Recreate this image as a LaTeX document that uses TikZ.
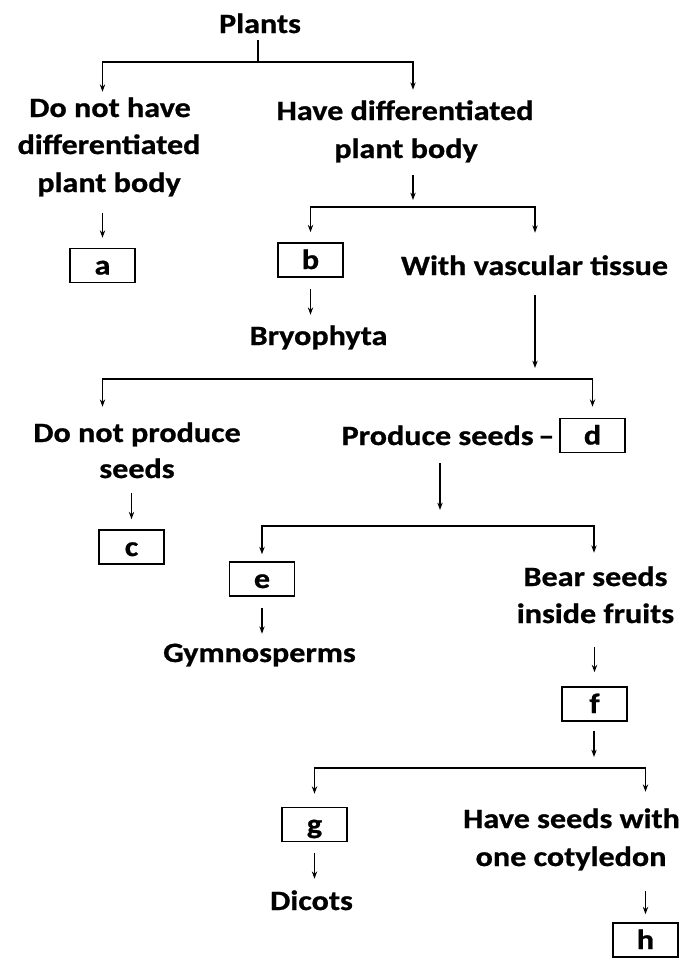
\documentclass[tikz,border=0pt]{standalone}
\usepackage{fontspec}
\setmainfont{Carlito}[FakeStretch=1.15, BoldFeatures={FakeBold=0.8}]
\usetikzlibrary{arrows.meta}
\begin{document}
\begin{tikzpicture}[x=0.75pt,y=-0.75pt,
  txt/.style={font=\fontsize{20.96}{28}\selectfont\bfseries, inner sep=0pt, anchor=base, text height=13.5pt, text depth=0pt},
  lbox/.style={draw, line width=1.2pt, minimum width=48.75pt, minimum height=25.5pt, inner xsep=0pt, inner ysep=6pt, text height=13.5pt, text depth=0pt, font=\fontsize{20.96}{28}\selectfont\bfseries},
  conn/.style={line width=1pt},
  arr/.style={conn, -{Stealth[length=5.5pt,width=4pt]}}]
\useasboundingbox (0,0) rectangle (684,958);
% text nodes (placed on their baselines)
\node[txt] (plants) at (260,33) {Plants};
\node[txt] (nodiff1) at (110,117) {Do not have};
\node[txt] (nodiff2) at (109,154) {differentiated};
\node[txt] (nodiff3) at (109,192) {plant body};
\node[txt] (diff1) at (405,120) {Have differentiated};
\node[txt] (diff2) at (406,158) {plant body};
\node[txt] (vasc) at (534.5,275) {With vascular tissue};
\node[txt] (bryo) at (318.5,345) {Bryophyta};
\node[txt] (noprod1) at (137,442) {Do not produce};
\node[txt] (noprod2) at (137,478) {seeds};
\node[txt] (seeds) at (448,445) {Produce seeds\,--};
\node[txt] (fruits1) at (595.5,586) {Bear seeds};
\node[txt] (fruits2) at (595.5,623) {inside fruits};
\node[txt] (gymno) at (259.5,662) {Gymnosperms};
\node[txt] (mono1) at (571.5,828) {Have seeds with};
\node[txt] (mono2) at (571,866) {one cotyledon};
\node[txt] (dicots) at (311.5,910) {Dicots};
% answer boxes
\node[lbox] (a) at (102.5,265.5) {a};
\node[lbox] (b) at (310.5,260) {b};
\node[lbox] (c) at (131.5,547) {c};
\node[lbox] (d) at (592.5,435.5) {d};
\node[lbox] (e) at (262,579) {e};
\node[lbox] (f) at (594.5,704) {f};
\node[lbox] (g) at (314.5,824.5) {g};
\node[lbox] (h) at (645.5,940) {h};
% junctions on the horizontal bars
\coordinate (j1) at (258,62);
\coordinate (j2) at (413,207);
\coordinate (j3) at (535,379);
\coordinate (j4) at (440,526);
\coordinate (j5) at (594,768);
% connectors
\draw[conn, shorten <=5.25pt] (plants.south -| j1) -- (j1);
\draw[arr, shorten >=5.25pt] (j1) -| (nodiff1.north -| a);
\draw[arr, shorten >=9pt] (j1) -| (diff1.north -| j2);
\draw[arr, shorten <=15.75pt, shorten >=7.5pt] (nodiff3.south -| a) -- (a.north);
\draw[arr, shorten <=12.75pt, shorten >=5.25pt] (diff2.south -| j2) -- (j2);
\draw[arr, shorten >=7.5pt] (j2) -| (b.north);
\draw[arr, shorten >=18pt] (j2) -| (vasc.north -| j3);
\draw[arr, shorten <=8.25pt, shorten >=9pt] (b.south) -- (bryo.north -| b);
\draw[arr, shorten <=15pt, shorten >=8.25pt] (vasc.south -| j3) -- (j3);
\draw[arr, shorten >=12.75pt] (j3) -| (noprod1.north -| a);
\draw[arr, shorten >=8.25pt] (j3) -| (d.north);
\draw[arr, shorten <=11.25pt, shorten >=7.5pt] (noprod2.south -| c) -- (c.north);
\draw[arr, shorten <=13.5pt, shorten >=12pt] (seeds.south -| j4) -- (j4);
\draw[arr, shorten >=5.25pt] (j4) -| (e.north);
\draw[arr, shorten >=11.25pt] (j4) -| (fruits1.north -| j5);
\draw[arr, shorten <=8.25pt, shorten >=7.5pt] (e.south) -- (gymno.north -| e);
\draw[arr, shorten <=18pt, shorten >=10.5pt] (fruits2.south -| f) -- (f.north);
\draw[arr, shorten <=6.75pt, shorten >=8.25pt] (f.south -| j5) -- (j5);
\draw[arr, shorten >=9.75pt] (j5) -| (g.north);
\draw[arr, shorten >=13.5pt] (j5) -| (mono1.north -| h);
\draw[arr, shorten <=8.25pt, shorten >=9.75pt] (g.south) -- (dicots.north -| g);
\draw[arr, shorten <=18.75pt, shorten >=6pt] (mono2.south -| h) -- (h.north);
\end{tikzpicture}
\end{document}
